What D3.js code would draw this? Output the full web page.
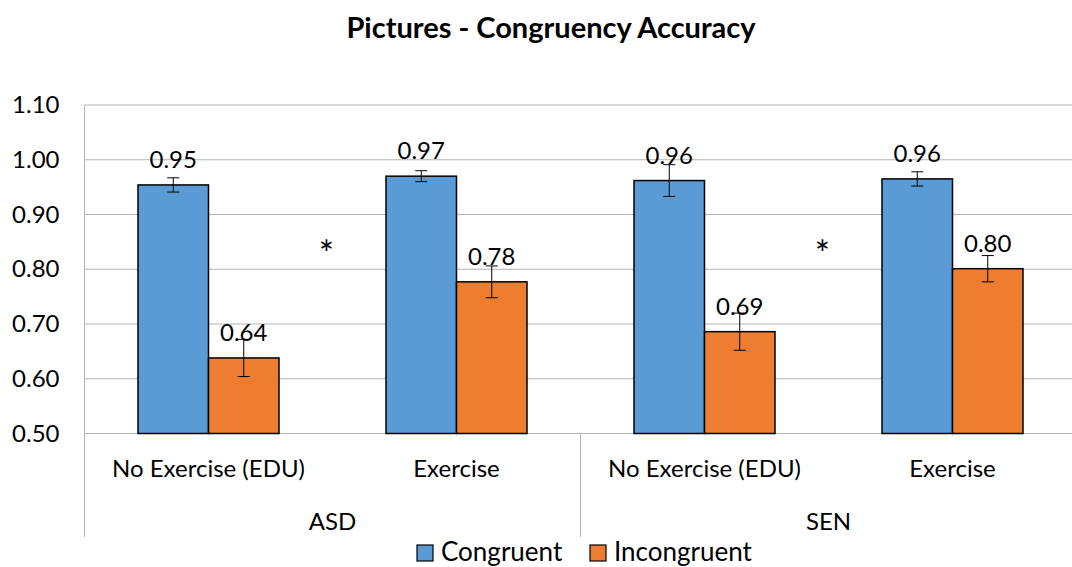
<!DOCTYPE html>
<html lang="en">
<head>
<meta charset="UTF-8">
<title>Pictures - Congruency Accuracy</title>
<script src="https://d3js.org/d3.v7.min.js"></script>
<style>
  body { margin: 0; background: #fff; }
  text { font-family: Lato, "Open Sans", sans-serif; fill: #000; }
</style>
</head>
<body>
<div id="chart"></div>
<script>
// data
const groups = ["ASD", "SEN"];
const conditions = ["No Exercise (EDU)", "Exercise"];
const series = ["Congruent", "Incongruent"];
const congruent = [0.954, 0.970, 0.962, 0.965];
const incongruent = [0.638, 0.777, 0.686, 0.801];
const congruentErr = [0.013, 0.010, 0.029, 0.013];
const incongruentErr = [0.034, 0.029, 0.034, 0.024];
const yTicks = [0.5, 0.6, 0.7, 0.8, 0.9, 1.0, 1.1];
const starY = [0.84, 0.84];
const colors = ["#5B9BD5", "#ED7D31"];

const W = 1072, H = 567;
const margin = { top: 105, left: 84.5, bottom: 133.5 };
const plotW = 992; // plot runs past the right edge, as in the source
const plotH = H - margin.top - margin.bottom;

const svg = d3.select("#chart").append("svg")
    .attr("width", W).attr("height", H);

// rows: one per group/condition pair
const rows = [];
groups.forEach(function (g, gi) {
    conditions.forEach(function (c, ci) {
        const i = gi * conditions.length + ci;
        rows.push({ key: g + "|" + c, group: g, cond: c,
            values: [congruent[i], incongruent[i]],
            errs: [congruentErr[i], incongruentErr[i]] });
    });
});

const x0 = d3.scaleBand().domain(rows.map(d => d.key))
    .range([margin.left, margin.left + plotW]);
const x1 = d3.scaleBand().domain(series)
    .range([0, 141]);
const xGroup = d3.scaleBand().domain(groups)
    .range([margin.left, margin.left + plotW]);
const y = d3.scaleLinear().domain([0.5, 1.1])
    .range([margin.top + plotH, margin.top]);

// title
svg.append("text")
    .attr("x", 551).attr("y", 38)
    .attr("text-anchor", "middle")
    .style("font-size", "29px").style("font-weight", "bold")
    .text("Pictures - Congruency Accuracy");

// gridlines
svg.append("g").selectAll("line").data(yTicks).join("line")
    .attr("x1", margin.left).attr("x2", margin.left + plotW)
    .attr("y1", d => y(d)).attr("y2", d => y(d))
    .attr("stroke", "#b3b3b3").attr("stroke-width", 1);

// y axis labels
const yAxis = svg.append("g")
    .attr("transform", "translate(" + margin.left + ",0)")
    .call(d3.axisLeft(y).tickValues(yTicks).tickFormat(d3.format(".2f")).tickSize(0).tickPadding(25));
yAxis.select(".domain").remove();
yAxis.selectAll("text").style("font-size", "24px").style("font-family", "Lato, sans-serif");

// left border and group separators through the category area
const sepX = [margin.left, xGroup("SEN")];
svg.append("g").selectAll("line").data(sepX).join("line")
    .attr("x1", d => d).attr("x2", d => d)
    .attr("y1", (d, i) => i === 0 ? margin.top : y(0.5))
    .attr("y2", 537)
    .attr("stroke", "#b3b3b3").attr("stroke-width", 1);

// bars
const g = svg.append("g").selectAll("g").data(rows).join("g")
    .attr("transform", d => "translate(" + (x0(d.key) + (x0.bandwidth() - 141) / 2) + ",0)");

const cells = g.selectAll("g").data(d => series.map((s, si) => ({ s: s, si: si, v: d.values[si], e: d.errs[si] })))
    .join("g");

cells.append("rect")
    .attr("x", d => x1(d.s))
    .attr("y", d => y(d.v))
    .attr("width", x1.bandwidth())
    .attr("height", d => y(0.5) - y(d.v))
    .attr("fill", d => colors[d.si])
    .attr("stroke", "#000").attr("stroke-width", 1.5);

// error bars
cells.append("line")
    .attr("x1", d => x1(d.s) + x1.bandwidth() / 2)
    .attr("x2", d => x1(d.s) + x1.bandwidth() / 2)
    .attr("y1", d => y(d.v + d.e)).attr("y2", d => y(d.v - d.e))
    .attr("stroke", "#000").attr("stroke-width", 1);
cells.selectAll(".cap").data(d => [d, d].map((o, k) => ({ o: o, k: k }))).join("line")
    .attr("class", "cap")
    .attr("x1", d => x1(d.o.s) + x1.bandwidth() / 2 - 6)
    .attr("x2", d => x1(d.o.s) + x1.bandwidth() / 2 + 6)
    .attr("y1", d => y(d.o.v + (d.k ? -d.o.e : d.o.e)))
    .attr("y2", d => y(d.o.v + (d.k ? -d.o.e : d.o.e)))
    .attr("stroke", "#000").attr("stroke-width", 1);

// value labels
cells.append("text")
    .attr("x", d => x1(d.s) + x1.bandwidth() / 2)
    .attr("y", d => y(d.v) - 17)
    .attr("text-anchor", "middle")
    .style("font-size", "24px")
    .text(d => d3.format(".2f")(d.v));

// significance stars
svg.append("g").selectAll("text").data(groups).join("text")
    .attr("x", d => xGroup(d) + xGroup.bandwidth() / 2 - 6)
    .attr("y", (d, i) => y(starY[i]) + 20)
    .attr("text-anchor", "middle")
    .style("font-size", "36px")
    .text("*");

// category labels
svg.append("g").selectAll("text").data(rows).join("text")
    .attr("x", d => x0(d.key) + x0.bandwidth() / 2)
    .attr("y", 477)
    .attr("text-anchor", "middle")
    .style("font-size", "24px")
    .text(d => d.cond);

svg.append("g").selectAll("text").data(groups).join("text")
    .attr("x", d => xGroup(d) + xGroup.bandwidth() / 2)
    .attr("y", 530)
    .attr("text-anchor", "middle")
    .style("font-size", "24px")
    .text(d => d);

// legend
const legendX = [417, 590];
const leg = svg.append("g").selectAll("g").data(series).join("g")
    .attr("transform", (d, i) => "translate(" + legendX[i] + ",545)");
leg.append("rect")
    .attr("width", 16).attr("height", 16)
    .attr("fill", (d, i) => colors[i])
    .attr("stroke", "#000").attr("stroke-width", 1.2);
leg.append("text")
    .attr("x", 24).attr("y", 16)
    .style("font-size", "26px")
    .text(d => d);
</script>
</body>
</html>
